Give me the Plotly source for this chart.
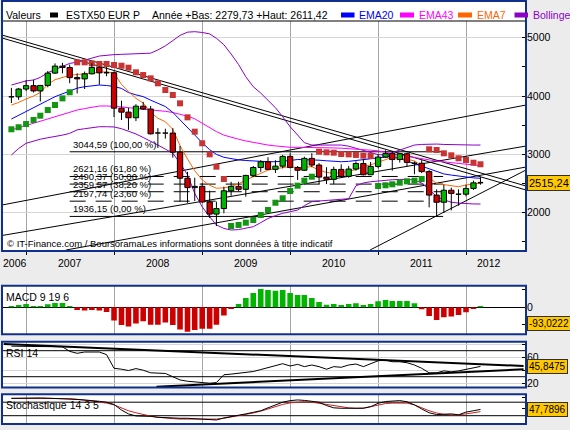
import plotly.graph_objects as go
import pandas as pd

W, H = 570, 430

# ------------------------------------------------------------------ data
MONTHS = pd.date_range("2006-11-01", "2012-03-01", freq="MS")  # monthly candles

OPEN = [4005, 3987, 4120, 4178, 4088, 4182, 4393, 4513, 4489, 4316, 4294, 4381, 4489, 4398,
        4400, 3792, 3724, 3628, 3826, 3777, 3352, 3367, 3365, 3038, 2591, 2430,
        2451, 2184, 1976, 2071, 2376, 2451, 2401, 2639, 2775, 2873, 2743, 2798,
        2965, 2776, 2728, 2931, 2817, 2610, 2573, 2742, 2623, 2748, 2844, 2651,
        2793, 2954, 3013, 2911, 3011, 2862, 2848, 2705, 2302, 2179, 2385, 2330,
        2317, 2416, 2512]
HIGH = [4140, 4140, 4272, 4280, 4190, 4430, 4560, 4570, 4540, 4390, 4420, 4560, 4510, 4500,
        4420, 3920, 3800, 3860, 3900, 3830, 3450, 3440, 3450, 3145, 2700, 2600,
        2510, 2377, 2190, 2446, 2531, 2530, 2650, 2800, 2900, 2950, 2900, 2990,
        3020, 2800, 2960, 3020, 2850, 2780, 2790, 2830, 2800, 2880, 2920, 2870,
        3000, 3070, 3040, 3020, 3030, 2880, 2900, 2730, 2400, 2480, 2430, 2400,
        2480, 2550, 2611]
LOW = [3880, 3935, 4085, 4060, 3906, 4150, 4380, 4390, 4220, 4045, 4120, 4370, 4195, 4340,
       3640, 3590, 3420, 3570, 3760, 3340, 3110, 3270, 2943, 2190, 2170, 2200,
       2170, 1910, 1772, 1990, 2290, 2370, 2274, 2610, 2700, 2730, 2680, 2760,
       2760, 2560, 2720, 2780, 2490, 2490, 2490, 2600, 2600, 2720, 2640, 2650,
       2760, 2940, 2720, 2860, 2790, 2660, 2680, 2092, 1943, 1995, 2040, 2120,
       2280, 2390, 2480]
CLOSE = [3987, 4120, 4178, 4088, 4182, 4393, 4513, 4489, 4316, 4294, 4381, 4489, 4398, 4400,
         3792, 3724, 3628, 3826, 3777, 3352, 3367, 3365, 3038, 2591, 2430, 2451,
         2184, 1976, 2071, 2376, 2451, 2401, 2639, 2775, 2873, 2743, 2798, 2965,
         2776, 2728, 2931, 2817, 2610, 2573, 2742, 2623, 2748, 2844, 2651, 2793,
         2954, 3013, 2911, 3011, 2862, 2848, 2705, 2302, 2179, 2385, 2330, 2317,
         2416, 2512, 2515]

SAR = [3430, 3465, 3520, 3590, 3663, 3760, 3846, 3960, 4065,
       4578, 4578, 4560, 4550, 4550, 4532, 4520, 4486, 4407, 4360, 4303, 4218, 4103,
       4018, 3875, 3635, 3389, 3190, 3001, 2789, 2578,
       1772, 1790, 1829, 1875, 1960, 2046, 2171, 2247, 2372, 2463, 2549, 2617,
       3046, 3035, 3029, 3006, 3000, 2990, 2977, 2972,
       2458, 2470, 2487, 2515, 2538, 2549, 2578,
       3087, 3075, 3018, 2984, 2933, 2904, 2857, 2830]

EMA7 = [3846, 3890, 3950, 4000, 4060, 4200, 4280, 4320, 4355, 4370,
        4385, 4400, 4410, 4417, 4390, 4200, 4080, 3960, 3880, 3720,
        3620, 3560, 3430, 3150, 2920, 2720, 2560, 2470, 2420, 2425,
        2450, 2495, 2560, 2615, 2680, 2730, 2755, 2775, 2790, 2770,
        2780, 2790, 2730, 2690, 2675, 2690, 2705, 2740, 2790, 2820,
        2865, 2910, 2950, 2935, 2915, 2890, 2800, 2600, 2500, 2478,
        2460, 2445, 2475, 2495, 2505]
EMA20 = [3606, 3668, 3730, 3790, 3858, 3925, 3989, 4040, 4095, 4135,
         4160, 4178, 4189, 4180, 4165, 4130, 4060, 4020, 3990, 3930,
         3880, 3820, 3720, 3590, 3460, 3320, 3200, 3080, 3000, 2950,
         2925, 2905, 2895, 2885, 2878, 2874, 2874, 2880, 2895, 2912,
         2912, 2906, 2900, 2890, 2880, 2874, 2880, 2895, 2915, 2933,
         2945, 2955, 2960, 2930, 2885, 2840, 2800, 2750, 2700, 2665,
         2645, 2625, 2607, 2597, 2590]
EMA43 = [3418, 3455, 3495, 3533, 3570, 3608, 3646, 3685, 3722, 3760,
         3785, 3808, 3829, 3830, 3829, 3815, 3800, 3790, 3778, 3770,
         3755, 3738, 3718, 3690, 3655, 3610, 3530, 3460, 3390, 3330,
         3290, 3260, 3230, 3205, 3180, 3160, 3145, 3130, 3121, 3121,
         3121, 3121, 3118, 3114, 3110, 3106, 3100, 3090, 3080, 3072,
         3060, 3040, 3015, 2990, 2968, 2945, 2920, 2900, 2885, 2872,
         2858, 2845, 2830, 2815, 2806]
BOLL_UP = [4189, 4230, 4260, 4275, 4320, 4400, 4450, 4500, 4560, 4580,
           4610, 4650, 4686, 4700, 4710, 4715, 4720, 4725, 4730, 4735,
           4790, 4860, 4950, 5040, 5095, 5103, 5090, 5065, 4990, 4880,
           4720, 4540, 4330, 4160, 4050, 3932, 3800, 3646, 3474, 3332,
           3200, 3160, 3160, 3160, 3165, 3160, 3140, 3104, 3060, 3020,
           2995, 2990, 3030, 3063, 3110, 3160, 3170, 3177, 3177, 3170,
           3165, 3160, 3160, 3160, 3160]
BOLL_LO = [2990, 3100, 3190, 3230, 3260, 3285, 3304, 3330, 3360, 3420,
           3440, 3460, 3474, 3474, 3470, 3440, 3400, 3350, 3290, 3230,
           3160, 3090, 3020, 2850, 2650, 2330, 2100, 1930, 1790, 1730,
           1703, 1710, 1730, 1760, 1830, 1900, 1950, 1990, 2017, 2046,
           2120, 2189, 2200, 2210, 2215, 2218, 2240, 2460, 2510, 2531,
           2545, 2558, 2565, 2570, 2572, 2560, 2510, 2400, 2274, 2220,
           2180, 2165, 2155, 2150, 2149]

MACD_HIST = [7.6, 13.3, 19, 7.6, 7.6, 17, 24.7, 24.7, 7.6, -15,
             -19, -15, -19, -26.6, -76, -101, -110, -93, -80, -99,
             -99, -87, -101, -127, -139, -129, -122, -122, -99, -47.5,
             -9.5, 19, 53, 82, 104.5, 99, 95, 99, 82, 70,
             70, 53, 30, 15, 19, 13, 19, 23, 13, 19,
             34, 42, 36, 36, 36, 23, -11, -49, -72, -57,
             -53, -44, -28.5, -9.5, 7.6]

RSI14 = [77, 77, 76.5, 76, 76, 76.5, 77, 76, 69, 66,
         68, 68.5, 68, 64, 43, 41.5, 39.5, 42.5, 40, 36,
         35.5, 35, 30, 25, 23, 22, 21, 20, 21, 33,
         34, 35, 36.5, 38, 41, 44, 48, 50, 46.5, 49,
         45.5, 48, 45.5, 41.5, 45.5, 44.5, 48, 49.5, 45.5, 49.5,
         54.5, 55.5, 53, 53, 51.5, 48, 43, 36, 36, 39,
         37.5, 39, 41.5, 44.5, 45.8]

STOCH_K = [97, 98, 99, 100, 99, 98, 97, 97, 95, 92,
           90, 88, 84, 80, 70, 45, 28, 19, 19, 17,
           13, 11, 9, 8.5, 8.5, 7, 4, 2, 1, 10,
           17, 22, 28, 35, 42, 55, 68, 80, 87, 90,
           88, 84, 80, 65, 55, 53, 53, 53, 53, 60,
           75, 83, 86, 87, 82, 68, 50, 33, 25, 26,
           28, 24, 36, 42, 47.8]
STOCH_D = [97, 97, 97, 97, 97, 97, 97, 97, 96, 93,
           89, 86, 80, 76, 68, 54, 42, 33, 25, 18,
           13, 9, 7, 5, 4.5, 4, 4, 4, 5, 8.5,
           14, 19, 24, 32, 40, 50, 60, 70, 77, 81,
           82, 80, 75, 68, 62, 58, 55, 53, 54, 60,
           68, 74, 76, 77, 76, 68, 55, 42, 32, 26,
           24, 24, 28, 34, 38]

FIB_LEVELS = [3044.59, 2621.16, 2490.37, 2359.57, 2197.74, 1936.15]
FIB_PCT = [100.0, 61.8, 50.0, 38.2, 23.6, 0.0]
FIB_SPAN = ["2007-07-01", "2011-09-28"]

# trend lines drawn on the price panel: (date0, value0, date1, value1)
TRENDLINES = [
    ("2006-09-23", 5046, "2012-09-06", 2458),
    ("2006-09-23", 4995, "2012-09-06", 2389),
    ("2006-09-23", 2132, "2012-09-06", 3846),
    ("2006-09-23", 1609, "2012-09-06", 3143),
    ("2007-06-16", 1361, "2012-09-06", 2783),
    ("2010-11-29", 1361, "2012-09-06", 2732),
]
RSI_TRENDLINES = [
    ("2006-09-30", 80.3, "2012-08-27", 46.5),
    ("2008-06-25", 14.6, "2012-08-27", 41.4),
]
RSI_LEVELS = [70, 30]
STOCH_LEVELS = [80, 20]

YEARS = ["2006", "2007", "2008", "2009", "2010", "2011", "2012"]
YEAR_LABEL_AT = ["2006-11-14", "2007-07-01", "2008-07-01", "2009-07-01",
                 "2010-07-01", "2011-07-01", "2012-04-06"]
JAN_TICKS = ["2007-01-01", "2008-01-01", "2009-01-01", "2010-01-01", "2011-01-01", "2012-01-01"]
X_RANGE = ["2006-09-23", "2012-09-06"]

LAST_PRICE, LAST_MACD, LAST_RSI, LAST_STOCH = 2515.24, -93.0222, 45.8475, 47.7896

# ------------------------------------------------------------------ style
FONT = "Liberation Sans, Arial, sans-serif"
NAVY = "#10308c"
GRID_V = "#a4a4a4"
GRID_H = "#d6d6d6"
C_UP, C_DN = "#00b400", "#cc0000"
C_SAR_UP, C_SAR_DN = "#129612", "#c83434"
C_EMA20, C_EMA43, C_EMA7, C_BOLL = "#0000ff", "#ff00ff", "#ff6600", "#8c00c8"
YELLOW = "#ffc800"


def PX(x):
    return x / W


def PY(y):
    return 1 - y / H


fig = go.Figure()


def add(tr, k):
    sx = "x" if k == 1 else f"x{k}"
    sy = "y" if k == 1 else f"y{k}"
    tr.update(xaxis=sx, yaxis=sy, showlegend=False, hoverinfo="skip")
    fig.add_trace(tr)


def fmt(v):
    return f"{v:.2f}".replace(".", ",")


# ---- price panel
for d0, v0, d1, v1 in TRENDLINES:
    add(go.Scatter(x=[d0, d1], y=[v0, v1], mode="lines", line=dict(color="black", width=1)), 1)

for lvl, pct in zip(FIB_LEVELS, FIB_PCT):
    solid = pct in (0.0, 100.0)
    add(go.Scatter(x=FIB_SPAN, y=[lvl, lvl], mode="lines",
                   line=dict(color="black", width=1, dash=None if solid else "16px,10px")), 1)

for series, col in [(BOLL_UP, C_BOLL), (BOLL_LO, C_BOLL), (EMA43, C_EMA43),
                    (EMA20, C_EMA20), (EMA7, C_EMA7)]:
    add(go.Scatter(x=MONTHS, y=series, mode="lines", line=dict(color=col, width=1)), 1)

sar_col = [C_SAR_DN if s > c else C_SAR_UP for s, c in zip(SAR, CLOSE)]
add(go.Scatter(x=MONTHS, y=SAR, mode="markers",
               marker=dict(symbol="square", size=6, color=sar_col, line=dict(width=0))), 1)

half = pd.Timedelta(days=11)
wx, wy = [], []
for d, h, l in zip(MONTHS, HIGH, LOW):
    wx += [d, d, None]
    wy += [l, h, None]
add(go.Scatter(x=wx, y=wy, mode="lines", line=dict(color="black", width=1)), 1)

bodies = {"up": ([], []), "dn": ([], [])}
dx, dy = [], []
for d, o, c in zip(MONTHS, OPEN, CLOSE):
    if abs(c - o) < 20:
        dx += [d - half, d + half, None]
        dy += [c, c, None]
        continue
    lo, hi = min(o, c), max(o, c)
    key = "up" if c > o else "dn"
    bx, by = bodies[key]
    bx += [d - half, d + half, d + half, d - half, d - half, None]
    by += [lo, lo, hi, hi, lo, None]
for key, col in (("up", C_UP), ("dn", C_DN)):
    bx, by = bodies[key]
    add(go.Scatter(x=bx, y=by, mode="lines", fill="toself", fillcolor=col,
                   line=dict(color="black", width=1)), 1)
add(go.Scatter(x=dx, y=dy, mode="lines", line=dict(color="black", width=1.5)), 1)

# ---- MACD panel
add(go.Bar(x=MONTHS, y=MACD_HIST, width=2.0e9,
           marker=dict(color=[C_UP if v >= 0 else C_DN for v in MACD_HIST], line=dict(width=0))), 2)

# ---- RSI panel
for lv in RSI_LEVELS:
    add(go.Scatter(x=X_RANGE, y=[lv, lv], mode="lines", line=dict(color="black", width=1)), 3)
for d0, v0, d1, v1 in RSI_TRENDLINES:
    add(go.Scatter(x=[d0, d1], y=[v0, v1], mode="lines", line=dict(color="black", width=2)), 3)
add(go.Scatter(x=MONTHS, y=RSI14, mode="lines", line=dict(color="black", width=1)), 3)

# ---- Stochastic panel
for lv in STOCH_LEVELS:
    add(go.Scatter(x=X_RANGE, y=[lv, lv], mode="lines", line=dict(color="black", width=1)), 4)
add(go.Scatter(x=MONTHS, y=STOCH_D, mode="lines", line=dict(color="#cc2020", width=1)), 4)
add(go.Scatter(x=MONTHS, y=STOCH_K, mode="lines", line=dict(color="black", width=1)), 4)

# ------------------------------------------------------------------ layout
XDOM = [PX(2), PX(526)]
panels = {  # top, bottom in px, y-range
    1: (21, 251, [1343.4, 5286.5]),
    2: (285.7, 334.3, [-154.2, 123.3]),
    3: (341.7, 387.5, [13.4, 83.85]),
    4: (394.3, 424.0, [-16.9, 115.1]),
}

tickfont = dict(family=FONT, size=10.5, color="black")
layout = dict(width=W, height=H, margin=dict(l=0, r=0, t=0, b=0),
              paper_bgcolor="#ececec", plot_bgcolor="white",
              font=dict(family=FONT, size=10.5, color="black"),
              barmode="overlay", showlegend=False, hovermode=False)

for k, (top, bot, rng) in panels.items():
    xa = dict(type="date", range=X_RANGE, domain=XDOM, tickvals=JAN_TICKS, showticklabels=False,
              showgrid=True, gridcolor=GRID_V, gridwidth=1, zeroline=False, showline=False,
              anchor="y" if k == 1 else f"y{k}", fixedrange=True,
              ticks="outside" if k == 1 else "", ticklen=3, tickcolor="black")
    if k > 1:
        xa["matches"] = "x"
    ya = dict(domain=[PY(bot), PY(top)], range=rng, side="right", zeroline=False, showline=False,
              anchor="x" if k == 1 else f"x{k}", ticks="inside", ticklen=4, tickcolor="black",
              tickfont=tickfont, fixedrange=True, showgrid=False)
    if k == 1:
        ya.update(tickvals=[2000, 3000, 4000, 5000], ticktext=["2000", "3000", "4000", "5000"],
                  showgrid=True, gridcolor=GRID_H,
                  minor=dict(tickvals=[1500, 2500, 3500, 4500], ticks="inside", ticklen=4,
                             tickcolor="black", showgrid=False))
    elif k == 2:
        ya.update(tickvals=[100, 0, -100], ticktext=["", "0", ""], zeroline=True,
                  zerolinecolor="black", zerolinewidth=1)
    elif k == 3:
        ya.update(tickvals=[80, 60, 40, 20], ticktext=["", "60", "", "20"], showgrid=True,
                  gridcolor=GRID_H)
    else:
        ya.update(tickvals=[100, 50], ticktext=["", ""])
    layout["xaxis" if k == 1 else f"xaxis{k}"] = xa
    layout["yaxis" if k == 1 else f"yaxis{k}"] = ya

shapes = [
    dict(type="rect", xref="paper", yref="paper", x0=PX(2), x1=PX(526), y0=PY(21), y1=PY(1),
         fillcolor="white", line=dict(width=0), layer="below"),
    dict(type="line", xref="paper", yref="paper", x0=PX(2), x1=PX(526), y0=PY(21), y1=PY(21),
         line=dict(color="black", width=1), layer="above"),
    dict(type="rect", xref="paper", yref="paper", x0=PX(2), x1=PX(526), y0=PY(251), y1=PY(1),
         line=dict(color=NAVY, width=2), layer="above"),
]
for k in (2, 3, 4):
    top, bot, _ = panels[k]
    shapes.append(dict(type="rect", xref="paper", yref="paper", x0=PX(2), x1=PX(526),
                       y0=PY(bot), y1=PY(top), line=dict(color=NAVY, width=2), layer="above"))

# header legend swatches
for x0, x1, col in [(50, 58, "black"), (341, 354.5, C_EMA20), (400, 414, C_EMA43),
                    (458, 472, C_EMA7), (514.5, 528, C_BOLL)]:
    shapes.append(dict(type="rect", xref="paper", yref="paper", x0=PX(x0), x1=PX(x1),
                       y0=PY(17.5), y1=PY(12.5), fillcolor=col, line=dict(width=0)))

ann = []
for txt, x, col in [("Valeurs", 3.5, "black"), ("ESTX50 EUR P", 64, "black"),
                    ("Année +Bas: 2279,73 +Haut: 2611,42", 150, "black"),
                    ("EMA20", 357, C_EMA20), ("EMA43", 417, C_EMA43),
                    ("EMA7", 475, C_EMA7), ("Bollinge", 531, C_BOLL)]:
    ann.append(dict(text=txt, x=PX(x), y=PY(15), xref="paper", yref="paper", xanchor="left",
                    yanchor="middle", showarrow=False, font=dict(size=10.5, color=col)))

for yr, pos in zip(YEARS, YEAR_LABEL_AT):
    ann.append(dict(text=yr, x=pos, y=PY(263), xref="x", yref="paper", xanchor="center",
                    yanchor="middle", showarrow=False, font=dict(size=10.5)))

for lvl, pct in zip(FIB_LEVELS, FIB_PCT):
    ann.append(dict(text=f"{fmt(lvl)} ({fmt(pct)} %)", x=FIB_SPAN[0], y=lvl, xref="x", yref="y",
                    xanchor="left", yanchor="bottom", xshift=1, yshift=0, showarrow=False,
                    font=dict(size=9.5)))

ann.append(dict(text="© IT-Finance.com / BoursoramaLes informations sont données à titre indicatif",
                x=PX(5), y=PY(243), xref="paper", yref="paper", xanchor="left", yanchor="middle",
                showarrow=False, font=dict(size=9.5)))

for txt, top in [("MACD 9 19 6", 297), ("RSI 14", 352.5), ("Stochastique 14 3 5", 405)]:
    ann.append(dict(text=txt, x=PX(4), y=PY(top), xref="paper", yref="paper", xanchor="left",
                    yanchor="middle", showarrow=False, font=dict(size=10.5)))

for val, yref, d, fs in [(LAST_PRICE, "y", 2, 11), (LAST_MACD, "y2", 4, 10),
                         (LAST_RSI, "y3", 4, 10), (LAST_STOCH, "y4", 4, 10)]:
    ann.append(dict(text=f"{val:.{d}f}".replace(".", ","), x=PX(526.5), y=val, xref="paper",
                    yref=yref, xanchor="left", yanchor="middle", showarrow=False,
                    bgcolor=YELLOW, bordercolor="#303030", borderwidth=1, borderpad=1,
                    font=dict(size=fs, color="black")))

layout["shapes"] = shapes
layout["annotations"] = ann
fig.update_layout(**layout)

fig.write_html("out.html", config={"displayModeBar": False, "staticPlot": True})
